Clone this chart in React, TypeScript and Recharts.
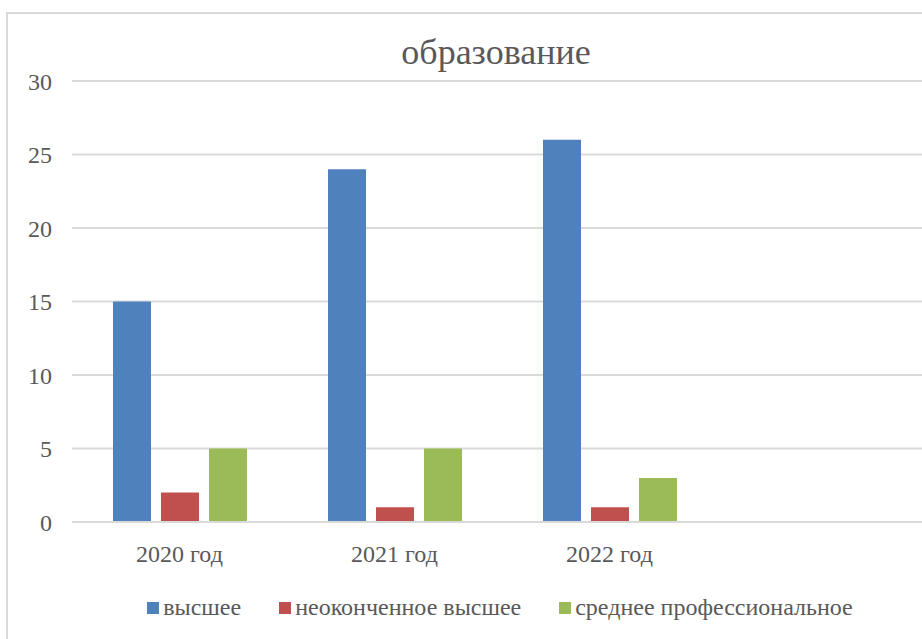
import { Bar, BarChart, CartesianGrid, XAxis, YAxis } from "recharts";

const years = ["2020 год", "2021 год", "2022 год", ""];
const higher = [15, 24, 26, null];
const incompleteHigher = [2, 1, 1, null];
const vocational = [5, 5, 3, null];
const yTicks = [0, 5, 10, 15, 20, 25, 30];

const series = [
  { key: "higher", name: "высшее", color: "#4F81BD" },
  { key: "incomplete", name: "неоконченное высшее", color: "#C0504D" },
  { key: "vocational", name: "среднее профессиональное", color: "#9BBB59" },
];

const data = years.map((y, i) => ({
  year: y,
  higher: higher[i],
  incomplete: incompleteHigher[i],
  vocational: vocational[i],
}));

const FONT = "'Liberation Serif', serif";
const TEXT = "#595959";

// legend drawn as plain html under the chart so it doesn't eat plot height
function LegendRow() {
  return (
    <div
      style={{
        position: "absolute",
        left: 0,
        width: 1000,
        top: 592,
        display: "flex",
        justifyContent: "center",
        alignItems: "center",
        fontFamily: FONT,
        fontSize: 24,
        color: TEXT,
        lineHeight: "30px",
      }}
    >
      {series.map((s, i) => (
        <div key={s.key} style={{ display: "flex", alignItems: "center", marginRight: i < series.length - 1 ? 38 : 0 }}>
          <span style={{ display: "inline-block", width: 12, height: 12, background: s.color, marginRight: 4, marginTop: 2 }} />
          <span>{s.name}</span>
        </div>
      ))}
    </div>
  );
}

export default function App() {
  return (
    <div
      style={{
        position: "absolute",
        left: 0,
        top: 0,
        width: 922,
        height: 639,
        overflow: "hidden",
        background: "#fff",
        fontFamily: FONT,
      }}
    >
      <div
        style={{
          position: "absolute",
          left: 6,
          top: 12,
          width: 1000,
          height: 700,
          border: "2px solid #d9d9d9",
          boxSizing: "border-box",
        }}
      />
      <div
        style={{
          position: "absolute",
          left: 296,
          width: 400,
          top: 30,
          textAlign: "center",
          fontSize: 36,
          color: TEXT,
          lineHeight: "44px",
        }}
      >
        образование
      </div>
      <div style={{ position: "absolute", left: 0, top: 0 }}>
        <BarChart
          width={940}
          height={639}
          data={data}
          margin={{ top: 81, right: 8, left: 0, bottom: 77 }}
          barCategoryGap={41}
          barGap={10}
          style={{ fontFamily: FONT }}
        >
          <CartesianGrid vertical={false} stroke="#d9d9d9" strokeWidth={2} />
          <XAxis
            dataKey="year"
            axisLine={{ stroke: "#d9d9d9", strokeWidth: 2 }}
            tickLine={false}
            tickSize={0}
            tickMargin={23}
            height={40}
            interval={0}
            tick={{ fontFamily: FONT, fontSize: 24, fill: TEXT }}
          />
          <YAxis
            domain={[0, 30]}
            ticks={yTicks}
            width={72}
            axisLine={false}
            tickLine={false}
            tickSize={0}
            tickMargin={20}
            tick={{ fontFamily: FONT, fontSize: 24, fill: TEXT }}
          />
          {series.map((s) => (
            <Bar key={s.key} dataKey={s.key} name={s.name} fill={s.color} isAnimationActive={false} />
          ))}
        </BarChart>
      </div>
      <LegendRow />
    </div>
  );
}
